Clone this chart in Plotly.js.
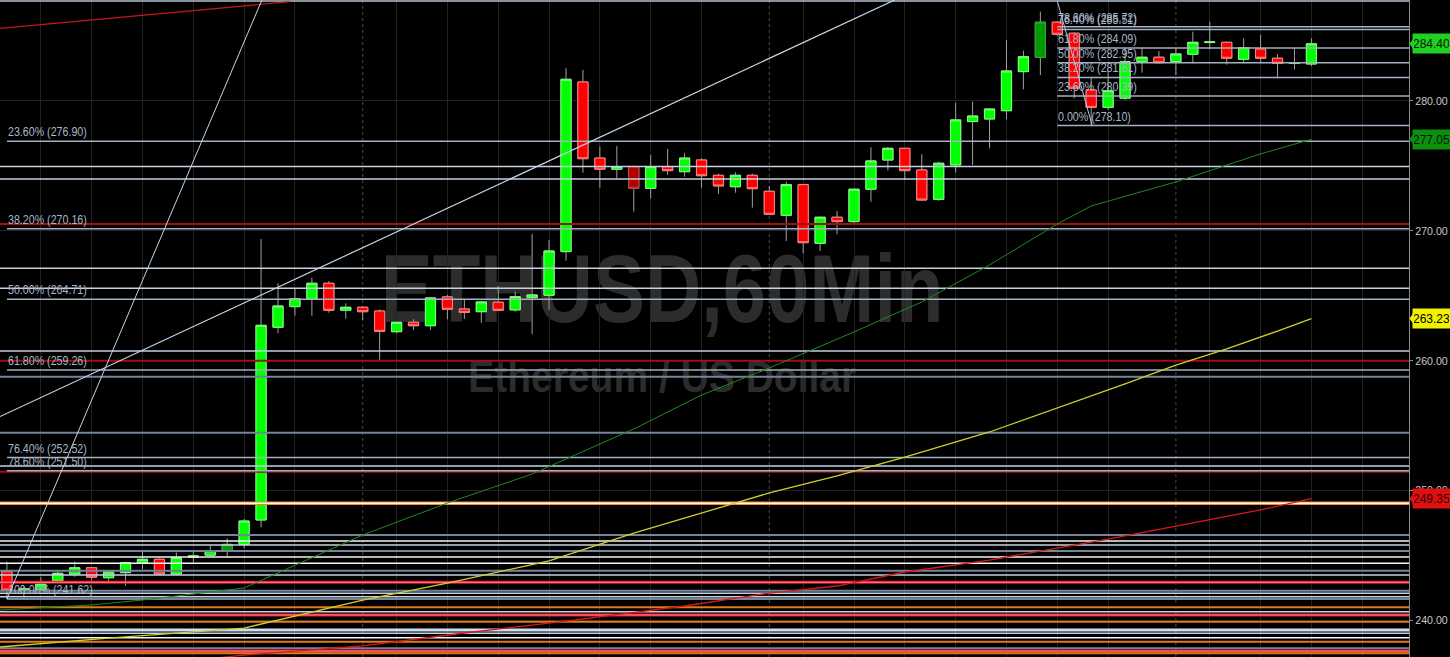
<!DOCTYPE html>
<html><head><meta charset="utf-8">
<script src="https://cdn.plot.ly/plotly-3.0.1.min.js"></script>
<style>html,body{margin:0;padding:0;background:#000;overflow:hidden}#chart{width:1450px;height:657px}</style>
</head><body><div id="chart"></div>
<script>
// ---------- DATA ----------
const opens  = [243.72,242.31,242.31,243.03,243.55,244.03,243.26,243.65,244.42,244.68,
                243.55,244.85,245.00,245.34,245.83,247.71,262.56,264.15,264.74,265.95,
                263.87,264.10,263.81,262.22,262.94,262.68,264.90,263.97,263.76,264.49,
                263.90,264.84,265.03,268.39,281.46,275.60,274.74,274.94,273.27,274.94,
                274.55,275.45,274.27,273.39,274.27,273.04,271.19,273.55,269.03,271.04,
                270.70,273.20,275.45,276.35,274.68,272.42,275.07,278.41,278.61,279.25,
                282.26,283.37,286.07,285.22,280.85,279.51,280.21,283.03,283.37,283.03,
                283.60,284.50,284.52,283.21,284.00,283.29,282.90,282.85];
const highs  = [244.50,242.60,243.30,243.80,244.50,244.10,243.75,244.50,245.30,244.75,
                245.20,245.34,245.73,246.30,247.78,269.36,265.95,265.56,266.38,266.13,
                264.40,264.20,263.95,263.00,263.17,264.90,265.05,264.66,264.60,265.74,
                265.30,269.75,269.29,282.52,282.39,276.48,276.53,275.00,275.84,276.30,
                275.97,275.60,274.40,274.50,274.40,273.45,273.78,273.60,271.10,271.52,
                273.25,276.43,276.45,276.40,275.89,275.32,279.87,279.95,279.45,284.70,
                283.88,286.88,286.15,285.30,281.83,282.30,284.06,284.06,283.85,284.06,
                285.34,286.11,284.60,284.83,285.09,283.60,284.06,284.83];
const lows   = [241.62,241.75,242.20,242.90,243.33,243.03,242.98,242.64,243.90,243.50,
                243.45,244.42,244.90,244.88,245.53,247.14,262.10,263.45,263.45,263.68,
                263.22,263.12,260.04,262.10,262.35,262.35,263.17,263.20,262.91,263.80,
                263.76,262.02,263.90,267.69,274.47,273.32,274.07,271.47,272.50,274.30,
                274.17,273.32,272.83,272.93,271.78,271.20,269.21,268.26,268.44,269.73,
                270.60,272.24,274.63,273.91,272.30,272.30,274.47,275.07,276.35,278.59,
                280.90,282.00,285.00,280.20,278.10,279.30,280.08,282.18,282.90,282.00,
                282.90,283.98,282.80,282.90,282.90,281.75,282.44,282.70];
const closes = [242.31,242.40,242.77,243.60,244.03,243.29,243.70,244.42,244.68,243.55,
                244.80,244.93,245.34,245.83,247.63,262.71,264.20,264.76,265.95,263.87,
                264.10,263.76,262.25,262.94,262.68,264.82,263.95,263.71,264.51,263.87,
                264.92,265.05,268.44,281.67,275.55,274.74,274.94,273.27,274.94,274.63,
                275.60,274.24,273.45,274.27,273.24,271.27,273.55,269.08,271.04,270.70,
                273.20,275.38,276.35,274.63,272.37,275.20,278.54,278.84,279.38,282.31,
                283.41,286.07,285.14,280.98,279.51,280.79,283.03,283.37,282.95,283.62,
                284.52,284.55,283.29,284.11,283.29,282.90,282.95,284.40];
const darkCandles = [13, 37, 61];

// moving averages (bar index, price)
const maGreenX  = [-0.41,5,8,14,21,26,31,37,41,45,50,54,58,62,64,69,74,77];
const maGreenY  = [240.77,241.16,241.54,242.47,246.55,249.02,251.25,254.72,257.34,259.42,262.20,264.51,267.36,270.52,271.91,273.76,275.92,277.05];
const maYellowX = [-0.41,6,14,21,26,32,37,43,45,49,53,58,64,66,69,72,75,77];
const maYellowY = [237.92,238.61,239.38,241.54,242.85,244.55,246.70,249.02,249.79,251.10,252.56,254.49,257.26,258.19,259.65,260.89,262.27,263.23];
const maRedX    = [10,14,21,27,33,40,45,49,53,58,65,69,74,77];
const maRedY    = [236.76,237.30,238.00,239.00,239.92,241.08,242.08,242.62,243.70,244.62,246.24,247.24,248.48,249.35];
const maLast    = [277.05, 263.23, 249.35];

// Fibonacci retracements
const fibLeftPct    = ['23.60%','38.20%','50.00%','61.80%','76.40%','78.60%','100.00%'];
const fibLeftPrice  = [276.90, 270.16, 264.71, 259.26, 252.52, 251.50, 241.62];
const fibRightPct   = ['78.60%','76.40%','61.80%','50.00%','38.20%','23.60%','0.00%'];
const fibRightPrice = [285.72, 285.51, 284.09, 282.95, 281.81, 280.39, 278.10];
const fibLeftStart = 0, fibRightStart = 62;

// horizontal support / resistance levels
const levelsTop      = [287.70];
const levelsLight    = [274.94,273.99,267.11,265.56,260.73,251.87,245.78,243.47,242.06,241.80,240.64,238.98];
const levelsWhite    = [246.09,244.86,244.37,238.64];
const levelsGray     = [258.75,254.44,246.55,245.32,243.80,242.26,237.82];
const levelsDarkRed  = [270.52,259.98,251.43];
const levelsRed      = [242.91,240.39,237.61];
const levelsOrange   = [240.98,239.87,238.33,237.43];
const levelsGlow     = [248.99];
const levelsBold     = [239.23];

// trendlines: [x0, p0, x1, p1]
const trendRed   = [-0.41, 285.60, 16.70, 287.65];
const trendSteep = [0.00, 241.62, 15.05, 287.78];
const trendLong  = [-0.41, 255.68, 52.40, 287.78];
const trendFib   = [62.00, 287.70, 64.06, 278.10];

const yTicks = [240, 250, 260, 270, 280];
const gridIdx = [2,5,8,11,14,17,23,26,29,32,35,38,41,47,50,53,56,59,62,65,71,74,77,80];
const daySep = [21, 45, 69];
const watermark = 'ETHUSD,60Min';
const subtitle = 'Ethereum / US Dollar';

// ---------- BUILD ----------
const idx = opens.map((_, i) => i);
const X0 = -0.41, X1 = 82.76, Y0 = 237.15, Y1 = 287.78;
const FONT = '"Liberation Sans", Arial, sans-serif';

function levelTrace(prices, color, width, x0) {
  const xs = [], ys = [];
  prices.forEach(p => { xs.push(x0, 100, null); ys.push(p, p, null); });
  return {type:'scatter', mode:'lines', x:xs, y:ys, line:{color, width}, hoverinfo:'skip'};
}
function seg(a, color, width) {
  return {type:'scatter', mode:'lines', x:[a[0], a[2]], y:[a[1], a[3]], line:{color, width}, hoverinfo:'skip'};
}
function pick(arr, keep) { return arr.filter((_, i) => keep(i)); }

const isDark = i => darkCandles.includes(i);
const bodyHi = opens.map((o, i) => Math.max(o, closes[i]));
const bodyLo = opens.map((o, i) => Math.min(o, closes[i]));

const traces = [];
traces.push({type:'candlestick', x:idx, open:opens, high:highs, low:lows, close:closes,
  increasing:{line:{color:'#a0a0a0', width:1}, fillcolor:'#00ff00'},
  decreasing:{line:{color:'#a0a0a0', width:1}, fillcolor:'#ff0000'}, hoverinfo:'skip'});
traces.push({type:'candlestick', x:pick(idx, i => !isDark(i)), open:pick(opens, i => !isDark(i)),
  high:pick(bodyHi, i => !isDark(i)), low:pick(bodyLo, i => !isDark(i)), close:pick(closes, i => !isDark(i)),
  increasing:{line:{color:'#7dff7d', width:1}, fillcolor:'#00ff00'},
  decreasing:{line:{color:'#ff8080', width:1}, fillcolor:'#ff0000'}, hoverinfo:'skip'});
traces.push({type:'candlestick', x:pick(idx, isDark), open:pick(opens, isDark),
  high:pick(bodyHi, isDark), low:pick(bodyLo, isDark), close:pick(closes, isDark),
  increasing:{line:{color:'#2ea82e', width:1}, fillcolor:'#009a00'},
  decreasing:{line:{color:'#c04040', width:1}, fillcolor:'#b00000'}, hoverinfo:'skip'});

traces.push(levelTrace(levelsTop, '#b4c2d2', 1.5, -5));
traces.push(levelTrace(levelsGray, '#74849a', 2, -5));
traces.push(levelTrace(levelsLight, '#c4d2e2', 1.5, -5));
traces.push(levelTrace(levelsWhite, '#f4f4f4', 1.5, -5));
traces.push(levelTrace(levelsDarkRed, '#a01010', 2, -5));
traces.push(levelTrace(levelsRed, '#e8162a', 3, -5));
traces.push(levelTrace(levelsRed, '#ff8a96', 1, -5));
traces.push(levelTrace(levelsOrange, '#e07a1c', 2, -5));
traces.push(levelTrace(levelsGlow, '#f08a2a', 3.5, -5));
traces.push(levelTrace(levelsGlow, '#fffbea', 1.5, -5));
traces.push(levelTrace(levelsBold, '#cfdff4', 3, -5));
traces.push(levelTrace(fibLeftPrice, '#a3b1c2', 1.5, fibLeftStart));
traces.push(levelTrace(fibRightPrice, '#a3b1c2', 1.5, fibRightStart));

traces.push({type:'scatter', mode:'lines', x:maGreenX, y:maGreenY, line:{color:'#1f8a1f', width:1}, hoverinfo:'skip'});
traces.push({type:'scatter', mode:'lines', x:maYellowX, y:maYellowY, line:{color:'#cfcf2a', width:1.3}, hoverinfo:'skip'});
traces.push({type:'scatter', mode:'lines', x:maRedX, y:maRedY, line:{color:'#d81818', width:1.3}, hoverinfo:'skip'});

traces.push(seg(trendRed, '#c81818', 1.2));
traces.push(seg(trendSteep, '#c8d4e4', 1));
traces.push(seg(trendLong, '#c8d4e4', 1.2));
traces.push(seg(trendFib, '#b8c4d4', 1));

const annotations = [];
const fibFont = {family: FONT, size: 13, color: '#aab8ca'};
fibLeftPrice.forEach((p, i) => annotations.push({x: fibLeftStart, y: p, xref:'x', yref:'y', xanchor:'left', yanchor:'bottom', align:'left',
  text: fibLeftPct[i] + ' (' + p.toFixed(2) + ')', showarrow:false, font: fibFont, borderpad:0, yshift:1}));
fibRightPrice.forEach((p, i) => annotations.push({x: fibRightStart, y: p, xref:'x', yref:'y', xanchor:'left', yanchor:'bottom', align:'left',
  text: fibRightPct[i] + ' (' + p.toFixed(2) + ')', showarrow:false, font: fibFont, borderpad:0, yshift:1}));

const plotW = 1409;
const tags = [
  {p: closes[closes.length - 1], bg:'#22d022', fg:'#002000'},
  {p: maLast[0], bg:'#0c8f0c', fg:'#001800'},
  {p: maLast[1], bg:'#f2f200', fg:'#000000'},
  {p: maLast[2], bg:'#e01010', fg:'#300000'}
];
const shapes = [];
const halfH = 9.5 / 12.975;
tags.forEach(t => {
  annotations.push({x:1, xref:'paper', y:t.p, yref:'y', xanchor:'left', yanchor:'middle', xshift:3,
    text: t.p.toFixed(2), showarrow:false, bgcolor:t.bg, borderpad:1, width:35, height:17,
    font:{family: FONT, size: 12, color: t.fg}});
  const xa = 1 + 0.5 / plotW, xb = 1 + 4.5 / plotW;
  shapes.push({type:'path', xref:'paper', yref:'y', layer:'above',
    path:`M ${xa},${t.p} L ${xb},${t.p + halfH * 0.6} L ${xb},${t.p - halfH * 0.6} Z`,
    fillcolor:t.bg, line:{width:0}});
});

daySep.forEach(d => shapes.push({type:'line', xref:'x', yref:'paper', x0:d, x1:d, y0:0, y1:1, layer:'below',
  line:{color:'#4a4a4a', width:1, dash:'3px,3px'}}));

shapes.push({type:'rect', xref:'paper', yref:'paper', x0:0.25, x1:0.69, y0:0.515, y1:0.635, layer:'below',
  line:{width:0}, fillcolor:'rgba(0,0,0,0)',
  label:{text: watermark, textposition:'middle center', font:{family: FONT, size: 96, color:'#2c2c2c', weight:'bold'}}});
shapes.push({type:'rect', xref:'paper', yref:'paper', x0:0.25, x1:0.69, y0:0.395, y1:0.47, layer:'below',
  line:{width:0}, fillcolor:'rgba(0,0,0,0)',
  label:{text: subtitle, textposition:'middle center', font:{family: FONT, size: 44, color:'#2c2c2c', weight:'bold'}}});

const layout = {
  width:1450, height:657, margin:{l:0, r:41, t:0, b:0, pad:0},
  paper_bgcolor:'#000', plot_bgcolor:'#000', showlegend:false, hovermode:false,
  boxmode:'overlay', boxgap:0.4, boxgroupgap:0,
  xaxis:{range:[X0, X1], tickvals:gridIdx, showticklabels:false, ticks:'', showgrid:true, gridcolor:'#222222', gridwidth:1,
    zeroline:false, showline:false, rangeslider:{visible:false}, fixedrange:true},
  yaxis:{range:[Y0, Y1], side:'right', tickvals:yTicks, tickformat:'.2f', ticks:'outside', ticklen:3, tickcolor:'#8a8a8a',
    showline:true, linecolor:'#8a8a8a', linewidth:1, showgrid:true, gridcolor:'#222222', zeroline:false,
    tickfont:{family: FONT, size: 11.5, color:'#c8c8c8'}, fixedrange:true},
  annotations, shapes
};

// narrow the lettering like the original condensed face (text stays real text)
function condense() {
  const squeeze = (el, target) => {
    el.removeAttribute('textLength');
    const w = el.getComputedTextLength();
    const goal = target(w);
    if (w > 0 && goal < w) { el.setAttribute('textLength', goal.toFixed(1)); el.setAttribute('lengthAdjust', 'spacingAndGlyphs'); }
  };
  document.querySelectorAll('#chart svg text').forEach(el => {
    const t = el.textContent;
    if (t === watermark) squeeze(el, () => 563);
    else if (t === subtitle) squeeze(el, () => 388);
    else if (el.closest('.ytick')) squeeze(el, w => w * 0.92);
    else if (el.classList.contains('annotation-text') && /%/.test(t)) squeeze(el, w => w * 0.82);
  });
}
Plotly.newPlot('chart', traces, layout, {staticPlot:true, displayModeBar:false}).then(() => { condense(); });
</script></body></html>
